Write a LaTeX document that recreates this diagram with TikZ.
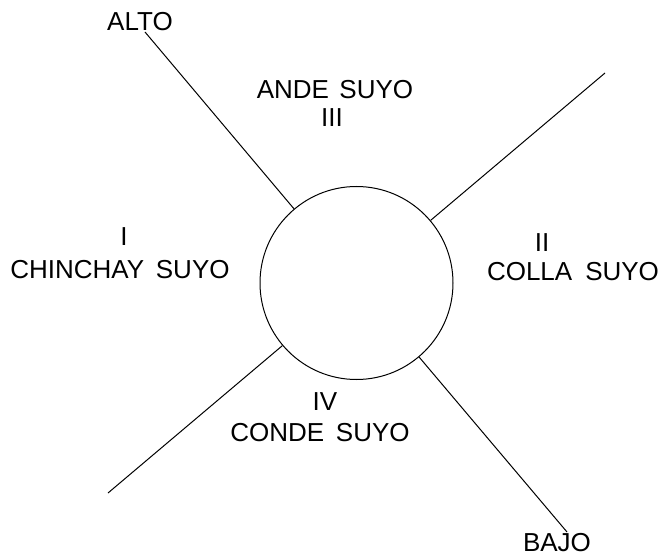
\documentclass[tikz,border=0pt]{standalone}
\usepackage{fontspec}
\setmainfont{Liberation Sans}
\begin{document}
\begin{tikzpicture}[x=1pt,y=-1pt,
  lbl/.style={inner sep=0pt,font=\fontsize{26}{28}\selectfont},
  ray/.style={line width=1pt,black}]
\useasboundingbox (0,0) rectangle (664,556);
\node[draw,circle,line width=1pt,minimum size=193pt,inner sep=0pt] (c) at (356.5,283) {};
\node[lbl] (alto) at (140,22) {ALTO};
\node[lbl] (ande) at (335,90) {ANDE\hspace{0.4em}SUYO};
\node[lbl] (iii) at (332,118) {III};
\node[lbl] (i) at (124,237) {I};
\node[lbl] (chin) at (120,270) {CHINCHAY\hspace{0.45em}SUYO};
\node[lbl] (ii) at (542,243) {II};
\node[lbl] (colla) at (573,272) {COLLA\hspace{0.5em}SUYO};
\node[lbl] (iv) at (325,402) {IV};
\node[lbl] (conde) at (320,433) {CONDE\hspace{0.45em}SUYO};
\node[lbl] (bajo) at (557,543) {BAJO};
\coordinate (nw) at (145,32);
\coordinate (ne) at (605,73);
\coordinate (sw) at (108,493);
\coordinate (se) at (567,532);
\draw[ray] (nw) -- (c);
\draw[ray] (ne) -- (c);
\draw[ray] (sw) -- (c);
\draw[ray] (se) -- (c);
\end{tikzpicture}
\end{document}
